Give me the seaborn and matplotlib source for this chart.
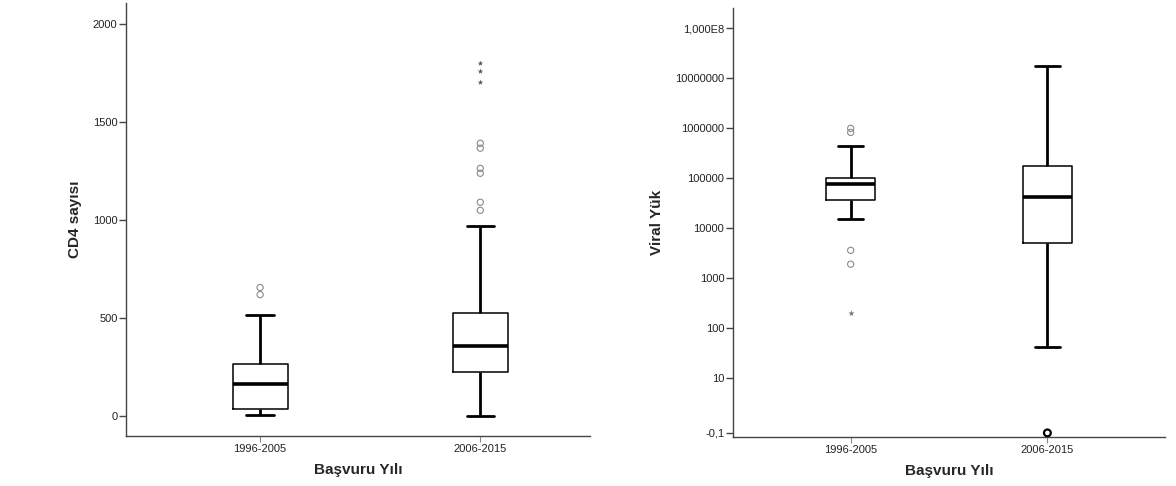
import numpy as np
import pandas as pd
import matplotlib
matplotlib.use("Agg")
import matplotlib.pyplot as plt
import seaborn as sns

# ---------------- data ----------------
categories = ["1996-2005", "2006-2015"]

# CD4 five-number summaries (low whisker, Q1, median, Q3, high whisker)
cd4_summary_1 = [4, 36, 164, 266, 517]
cd4_summary_2 = [0, 225, 358, 527, 967]
cd4_out_circ_1 = [619, 655]
cd4_out_circ_2 = [1049, 1090, 1238, 1263, 1366, 1391]
cd4_out_star_2 = [1703, 1760, 1800]
cd4_ticks = [0, 500, 1000, 1500, 2000]

# Viral load five-number summaries
vl_summary_1 = [15000, 36000, 76000, 100000, 440000]
vl_summary_2 = [42, 5000, 42000, 180000, 18000000]
vl_out_circ_1 = [830000, 1000000, 3600, 1900]
vl_out_star_1 = [200]
vl_out_bold_2 = [0.794]
vl_ticks = [0.794, 10, 100, 1000, 10000, 100000, 1000000, 10000000, 100000000]
vl_ticklabels = ["-0,1", "10", "100", "1000", "10000", "100000", "1000000",
                 "10000000", "1,000E8"]

xlabel = "Başvuru Yılı"
ylabel_left = "CD4 sayısı"
ylabel_right = "Viral Yük"

# ---------------- style ----------------
sns.set_theme(style="white")
plt.rcParams["font.family"] = ["Liberation Sans", "DejaVu Sans"]

fig = plt.figure(figsize=(11.76, 4.86), dpi=100)
axL = fig.add_axes([0.107, 0.103, 0.395, 0.891])
axR = fig.add_axes([0.623, 0.101, 0.368, 0.883])

box_kw = dict(width=0.25, fill=False, color="black", linecolor="black",
              linewidth=1.1, whis=np.inf, showfliers=False,
              medianprops=dict(linewidth=2.6, color="black"),
              whiskerprops=dict(linewidth=2.0, color="black"),
              capprops=dict(linewidth=2.0, color="black"),
              boxprops=dict(linewidth=1.1, color="black"))

# Left panel
dfL = pd.DataFrame({
    "grp": [categories[0]] * 5 + [categories[1]] * 5,
    "val": cd4_summary_1 + cd4_summary_2,
})
sns.boxplot(data=dfL, x="grp", y="val", order=categories, ax=axL, **box_kw)
axL.scatter([0] * len(cd4_out_circ_1), cd4_out_circ_1, s=20, facecolors="none",
            edgecolors="#8a8a8a", linewidths=0.8, zorder=3)
axL.scatter([1] * len(cd4_out_circ_2), cd4_out_circ_2, s=20, facecolors="none",
            edgecolors="#8a8a8a", linewidths=0.8, zorder=3)
axL.scatter([1] * len(cd4_out_star_2), cd4_out_star_2, s=18, marker="*",
            color="#555555", linewidths=0, zorder=3)
axL.set_ylim(-102, 2107)
axL.set_xlim(-0.61, 1.5)
axL.set_yticks(cd4_ticks)
axL.set_yticklabels([str(t) for t in cd4_ticks])

# Right panel
dfR = pd.DataFrame({
    "grp": [categories[0]] * 5 + [categories[1]] * 5,
    "val": vl_summary_1 + vl_summary_2,
})
sns.boxplot(data=dfR, x="grp", y="val", order=categories, ax=axR,
            log_scale=(False, True), **box_kw)
axR.scatter([0] * len(vl_out_circ_1), vl_out_circ_1, s=20, facecolors="none",
            edgecolors="#8a8a8a", linewidths=0.8, zorder=3)
axR.scatter([0] * len(vl_out_star_1), vl_out_star_1, s=22, marker="*",
            color="#777777", linewidths=0, zorder=3)
axR.scatter([1] * len(vl_out_bold_2), vl_out_bold_2, s=24, facecolors="none",
            edgecolors="black", linewidths=1.6, zorder=3)
axR.set_ylim(0.66, 2.6e8)
axR.set_xlim(-0.6, 1.6)
axR.set_yticks(vl_ticks)
axR.set_yticklabels(vl_ticklabels)
axR.yaxis.set_minor_locator(matplotlib.ticker.NullLocator())

for ax, yl in ((axL, ylabel_left), (axR, ylabel_right)):
    for s in ("top", "right"):
        ax.spines[s].set_visible(False)
    for s in ("left", "bottom"):
        ax.spines[s].set_color("#444444")
        ax.spines[s].set_linewidth(1.0)
    ax.tick_params(axis="y", which="major", left=True, length=5, width=1.0,
                   color="#444444", labelsize=8, labelcolor="#222222", pad=1)
    ax.tick_params(axis="x", which="major", bottom=True, length=4, width=0.8,
                   color="#888888", labelsize=8, labelcolor="#222222", pad=2)
    ax.set_xlabel(xlabel, fontsize=11, fontweight="bold", labelpad=6)
    ax.set_ylabel(yl, fontsize=11, fontweight="bold", labelpad=8)
    ax.set_facecolor("white")
    ax.grid(False)

fig.savefig("out.png", dpi=100, facecolor="white")
